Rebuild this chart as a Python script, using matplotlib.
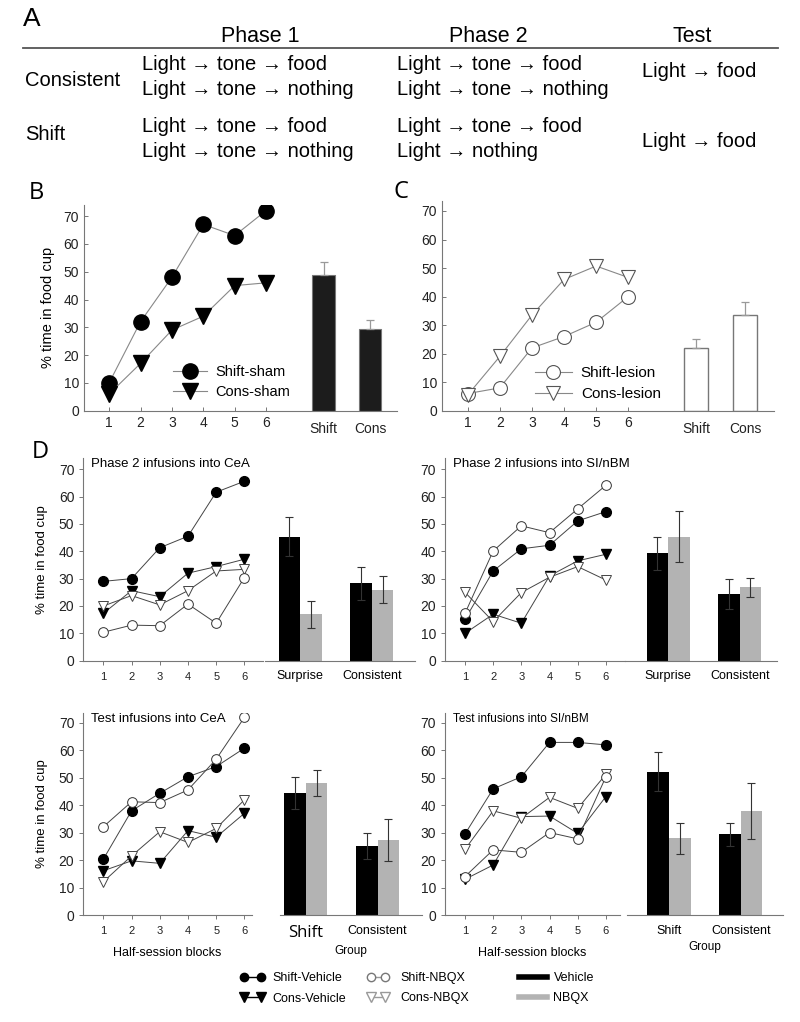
import matplotlib
matplotlib.use("Agg")
import matplotlib.pyplot as plt
from matplotlib.lines import Line2D

plt.rcParams['font.family'] = ['Liberation Sans', 'DejaVu Sans']

W, H = 800, 1022

# ---------------- data ----------------
blocks = [1, 2, 3, 4, 5, 6]

# panel A (design table)
a_headers = ["Phase 1", "Phase 2", "Test"]
a_groups = ["Consistent", "Shift"]
a_consistent = [["Light → tone → food", "Light → tone → nothing"],
                ["Light → tone → food", "Light → tone → nothing"],
                ["Light → food"]]
a_shift = [["Light → tone → food", "Light → tone → nothing"],
           ["Light → tone → food", "Light → nothing"],
           ["Light → food"]]

# panel B (sham)
b_shift_sham = [10, 32, 48, 67, 63, 72]
b_cons_sham = [6, 17, 29, 34, 45, 46]
b_bar_labels = ["Shift", "Cons"]
b_bar_means = [48.7, 29.4]
b_bar_sem = [4.9, 3.4]

# panel C (lesion)
c_shift_lesion = [6, 8, 22, 26, 31, 40]
c_cons_lesion = [5.5, 19, 33.5, 46, 50.7, 46.7]
c_bar_labels = ["Shift", "Cons"]
c_bar_means = [22.1, 33.5]
c_bar_sem = [2.9, 4.7]

# panel D (infusions), order: top-left, top-right, bottom-left, bottom-right
d_titles = ["Phase 2 infusions into CeA", "Phase 2 infusions into SI/nBM",
            "Test infusions into CeA", "Test infusions into SI/nBM"]
d_shift_veh = [[29, 30, 41.3, 45.5, 61.6, 65.6],
               [15.1, 32.8, 40.9, 42.2, 51.1, 54.5],
               [20.3, 37.9, 44.3, 50.3, 54, 60.7],
               [29.5, 45.9, 50.3, 62.8, 62.8, 61.9]]
d_cons_veh = [[17.3, 25.6, 23.4, 32, 34.4, 37.1],
              [10, 17, 13.7, 31, 36.5, 38.9],
              [16.1, 19.7, 18.8, 30.7, 28.3, 37],
              [13, 18.2, 35.8, 36, 29.7, 43.1]]
d_shift_nbqx = [[10.4, 13, 12.8, 20.7, 13.7, 30.4],
                [17.3, 40.1, 49.3, 46.8, 55.5, 64.1],
                [32.1, 41.2, 40.9, 45.5, 56.7, 71.9],
                [14, 23.7, 22.8, 30, 27.7, 50.3]]
d_cons_nbqx = [[20, 23.8, 20.4, 25.6, 32.8, 33.4],
               [25, 14.3, 24.9, 30.5, 34.4, 29.5],
               [12.1, 21.5, 30.3, 26.4, 31.5, 41.9],
               [23.9, 37.9, 35.2, 42.8, 38.8, 51.2]]
d_bar_labels = [["Surprise", "Consistent"], ["Surprise", "Consistent"],
                ["Shift", "Consistent"], ["Shift", "Consistent"]]
d_veh_means = [[45.4, 28.3], [39.3, 24.4], [44.3, 25.2], [52.2, 29.4]]
d_veh_sem = [[7.3, 6.1], [6.1, 5.5], [5.8, 4.8], [7.0, 4.2]]
d_nbqx_means = [[17, 25.9], [45.4, 26.8], [47.9, 27.3], [27.9, 37.9]]
d_nbqx_sem = [[5.0, 4.9], [9.5, 3.6], [4.7, 7.5], [5.6, 10.2]]
group_pos = [0, 1]
yticks = [0, 10, 20, 30, 40, 50, 60, 70]


def box(x0, y_top, x1, y_bot):
    return [x0 / W, 1 - y_bot / H, (x1 - x0) / W, (y_bot - y_top) / H]


def ftext(x, y, s, **kw):
    fig.text(x / W, 1 - y / H, s, va='center', **kw)


def style_axes(ax, direction):
    ax.patch.set_visible(False)
    for s in ['top', 'right']:
        ax.spines[s].set_visible(False)
    for s in ['left', 'bottom']:
        ax.spines[s].set_color('#777777')
        ax.spines[s].set_linewidth(0.8)
    ax.tick_params(direction=direction, length=3, width=0.7, color='#777777',
                   labelcolor='#222222')


fig = plt.figure(figsize=(W / 100, H / 100), dpi=100)

# ---------------- A ----------------
ftext(32, 19, "A", fontsize=19, ha='center')
for x, s in zip([260, 488, 692], a_headers):
    ftext(x, 36, s, fontsize=15.5, ha='center')
fig.add_artist(Line2D([23 / W, 778 / W], [1 - 48.3 / H] * 2, color='#555555', lw=1.3))
ftext(25, 80, a_groups[0], fontsize=14.5)
ftext(25, 135, a_groups[1], fontsize=14.5)
col_x = [141.7, 397, 641.7]
for i in range(2):
    for j, y in enumerate([64, 89.3]):
        ftext(col_x[i], y, a_consistent[i][j], fontsize=14.5)
    for j, y in enumerate([126, 151.7]):
        ftext(col_x[i], y, a_shift[i][j], fontsize=14.5)
ftext(col_x[2], 71.7, a_consistent[2][0], fontsize=14.5)
ftext(col_x[2], 141.7, a_shift[2][0], fontsize=14.5)

# ---------------- B ----------------
axb = fig.add_axes(box(84, 205, 397, 410.7))
style_axes(axb, 'in')
axb.plot(blocks, b_shift_sham, color='#888888', lw=0.8, marker='o', ms=11,
         mfc='black', mec='black', label='Shift-sham', zorder=3)
axb.plot(blocks, b_cons_sham, color='#888888', lw=0.8, marker='v', ms=11,
         mfc='black', mec='black', label='Cons-sham', zorder=3)
bx = [7.83, 9.31]
axb.bar(bx, b_bar_means, width=0.73, color='#1c1c1c', edgecolor='#777777', lw=0.8)
axb.errorbar(bx, b_bar_means, yerr=[[0, 0], b_bar_sem], fmt='none', ecolor='#999999',
             elinewidth=0.9, capsize=3, capthick=0.9)
axb.set_xlim(0.2, 10.17)
axb.set_ylim(0, 74)
axb.set_yticks(yticks)
axb.set_xticks(blocks + bx, [str(b) for b in blocks] + b_bar_labels)
for t in axb.xaxis.get_major_ticks()[6:]:
    t.tick1line.set_visible(False)
    t.label1.set_fontsize(11)
    t.set_pad(8)
axb.tick_params(labelsize=10)
axb.set_ylabel("% time in food cup", fontsize=10.5, labelpad=6)
fig.legend(loc='upper left', bbox_to_anchor=(173 / W, 1 - 365 / H), frameon=False,
           fontsize=10.5, handlelength=2.33, handletextpad=0.55, labelspacing=0.4,
           borderpad=0, borderaxespad=0, handles=axb.get_lines()[:2])
ftext(36, 193, "B", fontsize=17, family=['Open Sans', 'DejaVu Sans'], ha='center')

# ---------------- C ----------------
axc = fig.add_axes(box(442, 201, 774, 410.7))
style_axes(axc, 'in')
axc.plot(blocks, c_shift_lesion, color='#888888', lw=0.8, marker='o', ms=10,
         mfc='white', mec='#555555', mew=0.8, label='Shift-lesion', zorder=3)
axc.plot(blocks, c_cons_lesion, color='#888888', lw=0.8, marker='v', ms=10,
         mfc='white', mec='#555555', mew=0.8, label='Cons-lesion', zorder=3)
cx = [8.11, 9.64]
axc.bar(cx, c_bar_means, width=0.76, color='white', edgecolor='#777777', lw=1)
axc.errorbar(cx, c_bar_means, yerr=[[0, 0], c_bar_sem], fmt='none', ecolor='#999999',
             elinewidth=0.9, capsize=3, capthick=0.9)
axc.set_xlim(0.2, 10.54)
axc.set_ylim(0, 73.5)
axc.set_yticks(yticks)
axc.set_xticks(blocks + cx, [str(b) for b in blocks] + c_bar_labels)
for t in axc.xaxis.get_major_ticks()[6:]:
    t.tick1line.set_visible(False)
    t.label1.set_fontsize(11)
    t.set_pad(8)
axc.tick_params(labelsize=10)
fig.legend(loc='upper left', bbox_to_anchor=(535 / W, 1 - 366 / H), frameon=False,
           fontsize=11, handlelength=2.4, handletextpad=0.6, labelspacing=0.45,
           borderpad=0, borderaxespad=0, handles=axc.get_lines()[:2])
ftext(401, 192, "C", fontsize=17, family=['Open Sans', 'DejaVu Sans'], ha='center')

# ---------------- D ----------------
ftext(40, 452, "D", fontsize=17, family=['Open Sans', 'DejaVu Sans'], ha='center')
line_boxes = [(83.3, 458, 263, 660.7), (445, 458, 625, 660.7),
              (83.3, 713, 252, 915), (445, 713, 620, 915)]
line_xmax = [6.66, 6.68, 6.27, 6.5]
bar_boxes = [(265, 458, 415, 660.7), (625, 458, 777, 660.7),
             (280, 713, 422, 915), (626.7, 713, 783, 915)]
bar_xlims = [(-0.49, 1.6), (-0.6, 1.52), (-0.36, 1.62), (-0.59, 1.59)]
ytops = [74.1, 74.1, 73.5, 73.5]
title_fs = [9.5, 9.5, 9.5, 8.5]

for k in range(4):
    bax = fig.add_axes(box(*bar_boxes[k]))
    bax.patch.set_visible(False)
    for s in ['top', 'right', 'left']:
        bax.spines[s].set_visible(False)
    bax.spines['bottom'].set_color('#777777')
    bax.spines['bottom'].set_linewidth(0.8)
    bax.set_yticks([])
    vx = [g - 0.15 for g in group_pos]
    nx = [g + 0.15 for g in group_pos]
    bax.bar(vx, d_veh_means[k], width=0.3, color='black')
    bax.bar(nx, d_nbqx_means[k], width=0.3, color='#b3b3b3')
    bax.errorbar(vx, d_veh_means[k], yerr=d_veh_sem[k], fmt='none', ecolor='#333333',
                 elinewidth=0.8, capsize=3, capthick=0.8)
    bax.errorbar(nx, d_nbqx_means[k], yerr=d_nbqx_sem[k], fmt='none', ecolor='#333333',
                 elinewidth=0.8, capsize=3, capthick=0.8)
    bax.set_xlim(*bar_xlims[k])
    bax.set_ylim(0, ytops[k])
    bax.set_xticks(group_pos, d_bar_labels[k])
    bax.tick_params(axis='x', length=0, labelsize=9, pad=7)
    if k == 2:
        bax.get_xticklabels()[0].set_fontsize(12)
        bax.get_xticklabels()[0].set_family(['Open Sans', 'DejaVu Sans'])
    if k >= 2:
        bax.set_xlabel("Group", fontsize=8.5, labelpad=3)

    ax = fig.add_axes(box(*line_boxes[k]))
    style_axes(ax, 'out')
    ax.plot(blocks, d_shift_veh[k], color='#444444', lw=0.7, marker='o', ms=7,
            mfc='black', mec='black', zorder=4)
    ax.plot(blocks, d_cons_veh[k], color='#444444', lw=0.7, marker='v', ms=7.5,
            mfc='black', mec='black', zorder=3)
    ax.plot(blocks, d_shift_nbqx[k], color='#444444', lw=0.7, marker='o', ms=7,
            mfc='white', mec='#333333', mew=0.7, zorder=4)
    ax.plot(blocks, d_cons_nbqx[k], color='#444444', lw=0.7, marker='v', ms=7.5,
            mfc='white', mec='#444444', mew=0.7, zorder=3)
    ax.set_xlim(0.29, line_xmax[k])
    ax.set_ylim(0, ytops[k])
    ax.set_yticks(yticks)
    ax.set_xticks(blocks)
    ax.tick_params(axis='y', labelsize=10)
    ax.tick_params(axis='x', labelsize=8, pad=5)
    ax.text(0.045, 0.972, d_titles[k], transform=ax.transAxes, fontsize=title_fs[k],
            va='center', ha='left')
    if k % 2 == 0:
        ax.set_ylabel("% time in food cup", fontsize=9.5, labelpad=8)
    if k >= 2:
        ax.set_xlabel("Half-session blocks", fontsize=9, labelpad=8)

# bottom legends
leg_kw = dict(loc='upper left', frameon=False, fontsize=9, borderpad=0,
              borderaxespad=0, labelspacing=0.68)
veh_handles = [Line2D([], [], color='black', lw=1, marker='o', ms=6, mfc='black', mec='black'),
               Line2D([], [], color='black', lw=1, marker='v', ms=6.5, mfc='black', mec='black')]
fig.legend(handles=veh_handles, labels=["Shift-Vehicle", "Cons-Vehicle"], numpoints=2,
           handlelength=2.0, handletextpad=0.6, bbox_to_anchor=(240 / W, 1 - 972 / H),
           **leg_kw)
nbqx_handles = [Line2D([], [], color='#999999', lw=1, marker='o', ms=6, mfc='white', mec='#777777'),
                Line2D([], [], color='#999999', lw=1, marker='v', ms=6.5, mfc='white', mec='#999999')]
fig.legend(handles=nbqx_handles, labels=["Shift-NBQX", "Cons-NBQX"], numpoints=2,
           handlelength=1.7, handletextpad=0.95, bbox_to_anchor=(367 / W, 1 - 972 / H),
           **leg_kw)
bar_handles = [Line2D([], [], color='black', lw=4), Line2D([], [], color='#b3b3b3', lw=4)]
fig.legend(handles=bar_handles, labels=["Vehicle", "NBQX"],
           handlelength=2.2, handletextpad=0.56, bbox_to_anchor=(519 / W, 1 - 972 / H),
           **leg_kw)

fig.savefig("out.png", dpi=100)
